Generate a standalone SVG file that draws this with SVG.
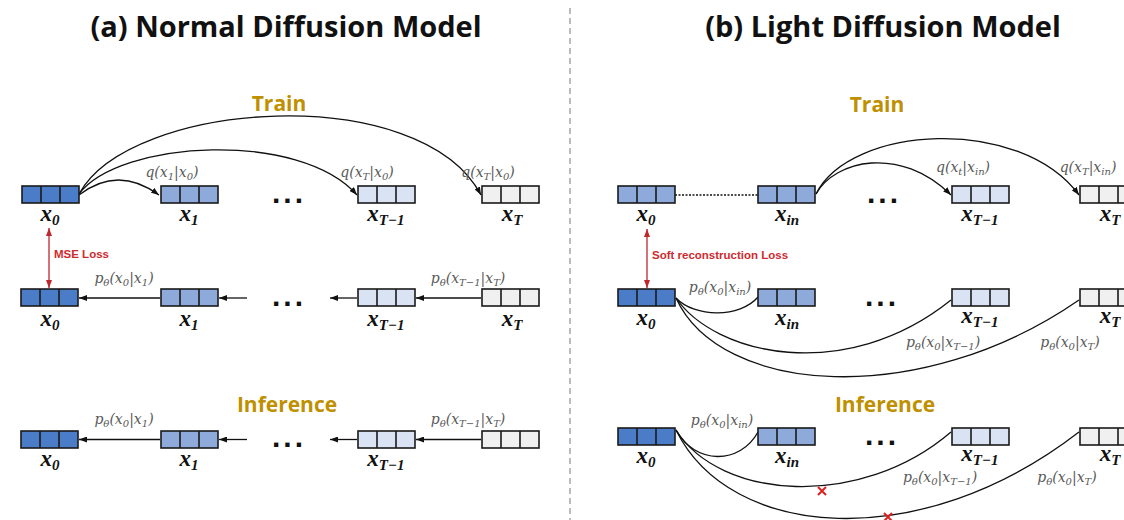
<svg xmlns="http://www.w3.org/2000/svg" xmlns:xlink="http://www.w3.org/1999/xlink" width="1124" height="520" viewBox="0 0 1124 520">
  <style>
    .title{font-family:"Open Sans","Noto Sans",sans-serif;font-weight:700;font-size:29px;fill:#111;text-anchor:middle}
    .stage{font-family:"Open Sans","Noto Sans",sans-serif;font-weight:700;font-size:21px;fill:#bf9000;text-anchor:middle}
    .c0{fill:#4a7cc8}
    .c1{fill:#8eaadb}
    .c2{fill:#dae3f3}
    .c3{fill:#f0f0f0}
    .var{font-family:"Liberation Serif",serif;font-weight:700;font-style:italic;font-size:23px;fill:#111;text-anchor:middle}
    .vs{font-size:15px}
    .fm{font-family:"DejaVu Serif",serif;font-style:italic;font-size:14px;fill:#595959;text-anchor:middle}
    .fs{font-size:10px}
    .dots{font-family:"Liberation Sans",sans-serif;font-weight:700;font-size:30px;fill:#111;text-anchor:middle;letter-spacing:3px}
    .edge{fill:none;stroke:#111;stroke-width:1.3}
    .link{fill:none;stroke:#111;stroke-width:1.3;stroke-dasharray:2 1.5}
    .loss{fill:none;stroke:#c0262d;stroke-width:1.3}
    .losstxt{font-family:"Liberation Sans",sans-serif;font-weight:700;font-size:11.5px;fill:#d02a30}
    .cross{fill:none;stroke:#e02020;stroke-width:2}
  </style>
  <defs>
    <!-- three-cell latent vector; fill comes from the <use> element -->
    <g id="cells">
      <rect width="57" height="17" stroke="#1a1a1a" stroke-width="1.6"/>
      <path d="M19,0V17M38,0V17" stroke="#1a1a1a" stroke-width="1.6"/>
    </g>
    <marker id="ah" viewBox="0 0 8 6" refX="8" refY="3" markerWidth="8" markerHeight="6" markerUnits="userSpaceOnUse" orient="auto">
      <path d="M0,0L8,3L0,6z" fill="#111"/>
    </marker>
    <marker id="rh" viewBox="0 0 8 6" refX="8" refY="3" markerWidth="8" markerHeight="6" markerUnits="userSpaceOnUse" orient="auto-start-reverse">
      <path d="M0,0L8,3L0,6z" fill="#c0262d"/>
    </marker>
  </defs>

  <rect width="1124" height="520" fill="#fff"/>

  <!-- panel titles and divider -->
  <text class="title" x="286" y="37">(a) Normal Diffusion Model</text>
  <text class="title" x="883" y="37">(b) Light Diffusion Model</text>
  <line x1="570" y1="8" x2="570" y2="520" stroke="#999" stroke-width="1.3" stroke-dasharray="6 4"/>

  <text class="stage" x="279" y="111">Train</text>
  <text class="stage" x="287" y="412">Inference</text>
  <text class="stage" x="877" y="112">Train</text>
  <text class="stage" x="885" y="412">Inference</text>

  <!-- connectors -->
  <g id="connectors">
    <!-- (a) forward noising -->
    <path class="edge" d="M79,195 Q118,165 159,195" marker-end="url(#ah)"/>
    <path class="edge" d="M79,194 C120,140 300,130 357,195" marker-end="url(#ah)"/>
    <path class="edge" d="M79,194 C130,100 420,80 481,195" marker-end="url(#ah)"/>
    <!-- (a) reverse chain, training -->
    <path class="edge" d="M160,298H79" marker-end="url(#ah)"/>
    <path class="edge" d="M247,298H219" marker-end="url(#ah)"/>
    <path class="edge" d="M357,298H330" marker-end="url(#ah)"/>
    <path class="edge" d="M481,298H416" marker-end="url(#ah)"/>
    <!-- (a) reverse chain, inference -->
    <path class="edge" d="M160,439.5H79" marker-end="url(#ah)"/>
    <path class="edge" d="M247,439.5H219" marker-end="url(#ah)"/>
    <path class="edge" d="M357,439.5H330" marker-end="url(#ah)"/>
    <path class="edge" d="M481,439.5H416" marker-end="url(#ah)"/>
    <!-- (a) loss -->
    <path class="loss" d="M49,228V288" marker-start="url(#rh)" marker-end="url(#rh)"/>

    <!-- (b) forward noising from x_in -->
    <path class="link" d="M675,195H758"/>
    <path class="edge" d="M816,194 C835,160 900,145 951,195" marker-end="url(#ah)"/>
    <path class="edge" d="M816,194 C850,125 1020,115 1079,195" marker-end="url(#ah)"/>
    <!-- (b) direct prediction of x0, training -->
    <path class="edge" d="M676,298 C695,318 740,318 758,297"/>
    <path class="edge" d="M676,298 C715,355 845,385 951,300"/>
    <path class="edge" d="M676,298 C720,395 920,410 1079,300"/>
    <!-- (b) direct prediction of x0, inference -->
    <path class="edge" d="M676,430 C695,465 740,465 758,432"/>
    <path class="edge" d="M676,430 C720,500 860,510 951,432"/>
    <path class="edge" d="M676,430 C730,540 920,555 1079,432"/>
    <!-- (b) loss -->
    <path class="loss" d="M647,229V288" marker-start="url(#rh)" marker-end="url(#rh)"/>
  </g>

  <!-- edge labels -->
  <g id="edge-labels">
    <text class="fm" x="172" y="177">q(x<tspan class="fs" dy="3">1</tspan><tspan dy="-3">|x</tspan><tspan class="fs" dy="3">0</tspan><tspan dy="-3">)</tspan></text>
    <text class="fm" x="367" y="177">q(x<tspan class="fs" dy="3">T</tspan><tspan dy="-3">|x</tspan><tspan class="fs" dy="3">0</tspan><tspan dy="-3">)</tspan></text>
    <text class="fm" x="488" y="177">q(x<tspan class="fs" dy="3">T</tspan><tspan dy="-3">|x</tspan><tspan class="fs" dy="3">0</tspan><tspan dy="-3">)</tspan></text>

    <text class="fm" x="124" y="283">p<tspan class="fs" dy="3">θ</tspan><tspan dy="-3">(x</tspan><tspan class="fs" dy="3">0</tspan><tspan dy="-3">|x</tspan><tspan class="fs" dy="3">1</tspan><tspan dy="-3">)</tspan></text>
    <text class="fm" x="468" y="283">p<tspan class="fs" dy="3">θ</tspan><tspan dy="-3">(x</tspan><tspan class="fs" dy="3">T−1</tspan><tspan dy="-3">|x</tspan><tspan class="fs" dy="3">T</tspan><tspan dy="-3">)</tspan></text>
    <text class="fm" x="124" y="424">p<tspan class="fs" dy="3">θ</tspan><tspan dy="-3">(x</tspan><tspan class="fs" dy="3">0</tspan><tspan dy="-3">|x</tspan><tspan class="fs" dy="3">1</tspan><tspan dy="-3">)</tspan></text>
    <text class="fm" x="468" y="424">p<tspan class="fs" dy="3">θ</tspan><tspan dy="-3">(x</tspan><tspan class="fs" dy="3">T−1</tspan><tspan dy="-3">|x</tspan><tspan class="fs" dy="3">T</tspan><tspan dy="-3">)</tspan></text>

    <text class="fm" x="963" y="172">q(x<tspan class="fs" dy="3">t</tspan><tspan dy="-3">|x</tspan><tspan class="fs" dy="3">in</tspan><tspan dy="-3">)</tspan></text>
    <text class="fm" x="1088" y="172">q(x<tspan class="fs" dy="3">T</tspan><tspan dy="-3">|x</tspan><tspan class="fs" dy="3">in</tspan><tspan dy="-3">)</tspan></text>

    <text class="fm" x="720" y="292">p<tspan class="fs" dy="3">θ</tspan><tspan dy="-3">(x</tspan><tspan class="fs" dy="3">0</tspan><tspan dy="-3">|x</tspan><tspan class="fs" dy="3">in</tspan><tspan dy="-3">)</tspan></text>
    <text class="fm" x="943" y="347">p<tspan class="fs" dy="3">θ</tspan><tspan dy="-3">(x</tspan><tspan class="fs" dy="3">0</tspan><tspan dy="-3">|x</tspan><tspan class="fs" dy="3">T−1</tspan><tspan dy="-3">)</tspan></text>
    <text class="fm" x="1070" y="347">p<tspan class="fs" dy="3">θ</tspan><tspan dy="-3">(x</tspan><tspan class="fs" dy="3">0</tspan><tspan dy="-3">|x</tspan><tspan class="fs" dy="3">T</tspan><tspan dy="-3">)</tspan></text>

    <text class="fm" x="722" y="425">p<tspan class="fs" dy="3">θ</tspan><tspan dy="-3">(x</tspan><tspan class="fs" dy="3">0</tspan><tspan dy="-3">|x</tspan><tspan class="fs" dy="3">in</tspan><tspan dy="-3">)</tspan></text>
    <text class="fm" x="940" y="482">p<tspan class="fs" dy="3">θ</tspan><tspan dy="-3">(x</tspan><tspan class="fs" dy="3">0</tspan><tspan dy="-3">|x</tspan><tspan class="fs" dy="3">T−1</tspan><tspan dy="-3">)</tspan></text>
    <text class="fm" x="1067" y="482">p<tspan class="fs" dy="3">θ</tspan><tspan dy="-3">(x</tspan><tspan class="fs" dy="3">0</tspan><tspan dy="-3">|x</tspan><tspan class="fs" dy="3">T</tspan><tspan dy="-3">)</tspan></text>

    <text class="losstxt" x="54" y="258">MSE Loss</text>
    <text class="losstxt" x="652" y="259">Soft reconstruction Loss</text>
  </g>

  <!-- rejected long-range jumps at inference -->
  <path class="cross" d="M818,487l8,8M826,487l-8,8"/>
  <path class="cross" d="M884,513l8,8M892,513l-8,8"/>

  <!-- (a) nodes, training forward -->
  <g id="a-train-x0"><use xlink:href="#cells" x="22" y="186" class="c0"/><text class="var" x="50" y="221">x<tspan class="vs" dy="4">0</tspan></text></g>
  <g id="a-train-x1"><use xlink:href="#cells" x="161" y="186" class="c1"/><text class="var" x="189" y="221">x<tspan class="vs" dy="4">1</tspan></text></g>
  <g id="a-train-dots"><text class="dots" x="289" y="203">...</text></g>
  <g id="a-train-xT1"><use xlink:href="#cells" x="358" y="186" class="c2"/><text class="var" x="386" y="221">x<tspan class="vs" dy="4">T−1</tspan></text></g>
  <g id="a-train-xT"><use xlink:href="#cells" x="482" y="186" class="c3"/><text class="var" x="512" y="221">x<tspan class="vs" dy="4">T</tspan></text></g>

  <!-- (a) nodes, training reverse -->
  <g id="a-rev-x0"><use xlink:href="#cells" x="21" y="289" class="c0"/><text class="var" x="50" y="326">x<tspan class="vs" dy="4">0</tspan></text></g>
  <g id="a-rev-x1"><use xlink:href="#cells" x="161" y="289" class="c1"/><text class="var" x="189" y="326">x<tspan class="vs" dy="4">1</tspan></text></g>
  <g id="a-rev-dots"><text class="dots" x="289" y="306">...</text></g>
  <g id="a-rev-xT1"><use xlink:href="#cells" x="358" y="289" class="c2"/><text class="var" x="386" y="326">x<tspan class="vs" dy="4">T−1</tspan></text></g>
  <g id="a-rev-xT"><use xlink:href="#cells" x="482" y="289" class="c3"/><text class="var" x="512" y="326">x<tspan class="vs" dy="4">T</tspan></text></g>

  <!-- (a) nodes, inference -->
  <g id="a-inf-x0"><use xlink:href="#cells" x="21" y="431" class="c0"/><text class="var" x="50" y="466">x<tspan class="vs" dy="4">0</tspan></text></g>
  <g id="a-inf-x1"><use xlink:href="#cells" x="161" y="431" class="c1"/><text class="var" x="189" y="466">x<tspan class="vs" dy="4">1</tspan></text></g>
  <g id="a-inf-dots"><text class="dots" x="289" y="447">...</text></g>
  <g id="a-inf-xT1"><use xlink:href="#cells" x="358" y="431" class="c2"/><text class="var" x="386" y="466">x<tspan class="vs" dy="4">T−1</tspan></text></g>
  <g id="a-inf-xT"><use xlink:href="#cells" x="482" y="431" class="c3"/></g>

  <!-- (b) nodes, training forward -->
  <g id="b-train-x0"><use xlink:href="#cells" x="618" y="186" class="c1"/><text class="var" x="646" y="221">x<tspan class="vs" dy="4">0</tspan></text></g>
  <g id="b-train-xin"><use xlink:href="#cells" x="758" y="186" class="c1"/><text class="var" x="787" y="221">x<tspan class="vs" dy="4">in</tspan></text></g>
  <g id="b-train-dots"><text class="dots" x="884" y="203">...</text></g>
  <g id="b-train-xT1"><use xlink:href="#cells" x="952" y="186" class="c2"/><text class="var" x="980" y="221">x<tspan class="vs" dy="4">T−1</tspan></text></g>
  <g id="b-train-xT"><use xlink:href="#cells" x="1080" y="186" class="c3"/><text class="var" x="1110" y="221">x<tspan class="vs" dy="4">T</tspan></text></g>

  <!-- (b) nodes, training reverse -->
  <g id="b-rev-x0"><use xlink:href="#cells" x="618" y="289" class="c0"/><text class="var" x="646" y="325">x<tspan class="vs" dy="4">0</tspan></text></g>
  <g id="b-rev-xin"><use xlink:href="#cells" x="758" y="289" class="c1"/><text class="var" x="787" y="325">x<tspan class="vs" dy="4">in</tspan></text></g>
  <g id="b-rev-dots"><text class="dots" x="882" y="306">...</text></g>
  <g id="b-rev-xT1"><use xlink:href="#cells" x="952" y="289" class="c2"/><text class="var" x="980" y="323">x<tspan class="vs" dy="4">T−1</tspan></text></g>
  <g id="b-rev-xT"><use xlink:href="#cells" x="1080" y="289" class="c3"/><text class="var" x="1110" y="323">x<tspan class="vs" dy="4">T</tspan></text></g>

  <!-- (b) nodes, inference -->
  <g id="b-inf-x0"><use xlink:href="#cells" x="618" y="428" class="c0"/><text class="var" x="646" y="463">x<tspan class="vs" dy="4">0</tspan></text></g>
  <g id="b-inf-xin"><use xlink:href="#cells" x="758" y="428" class="c1"/><text class="var" x="787" y="463">x<tspan class="vs" dy="4">in</tspan></text></g>
  <g id="b-inf-dots"><text class="dots" x="882" y="445">...</text></g>
  <g id="b-inf-xT1"><use xlink:href="#cells" x="952" y="428" class="c2"/><text class="var" x="980" y="461">x<tspan class="vs" dy="4">T−1</tspan></text></g>
  <g id="b-inf-xT"><use xlink:href="#cells" x="1080" y="428" class="c3"/><text class="var" x="1110" y="461">x<tspan class="vs" dy="4">T</tspan></text></g>
</svg>
